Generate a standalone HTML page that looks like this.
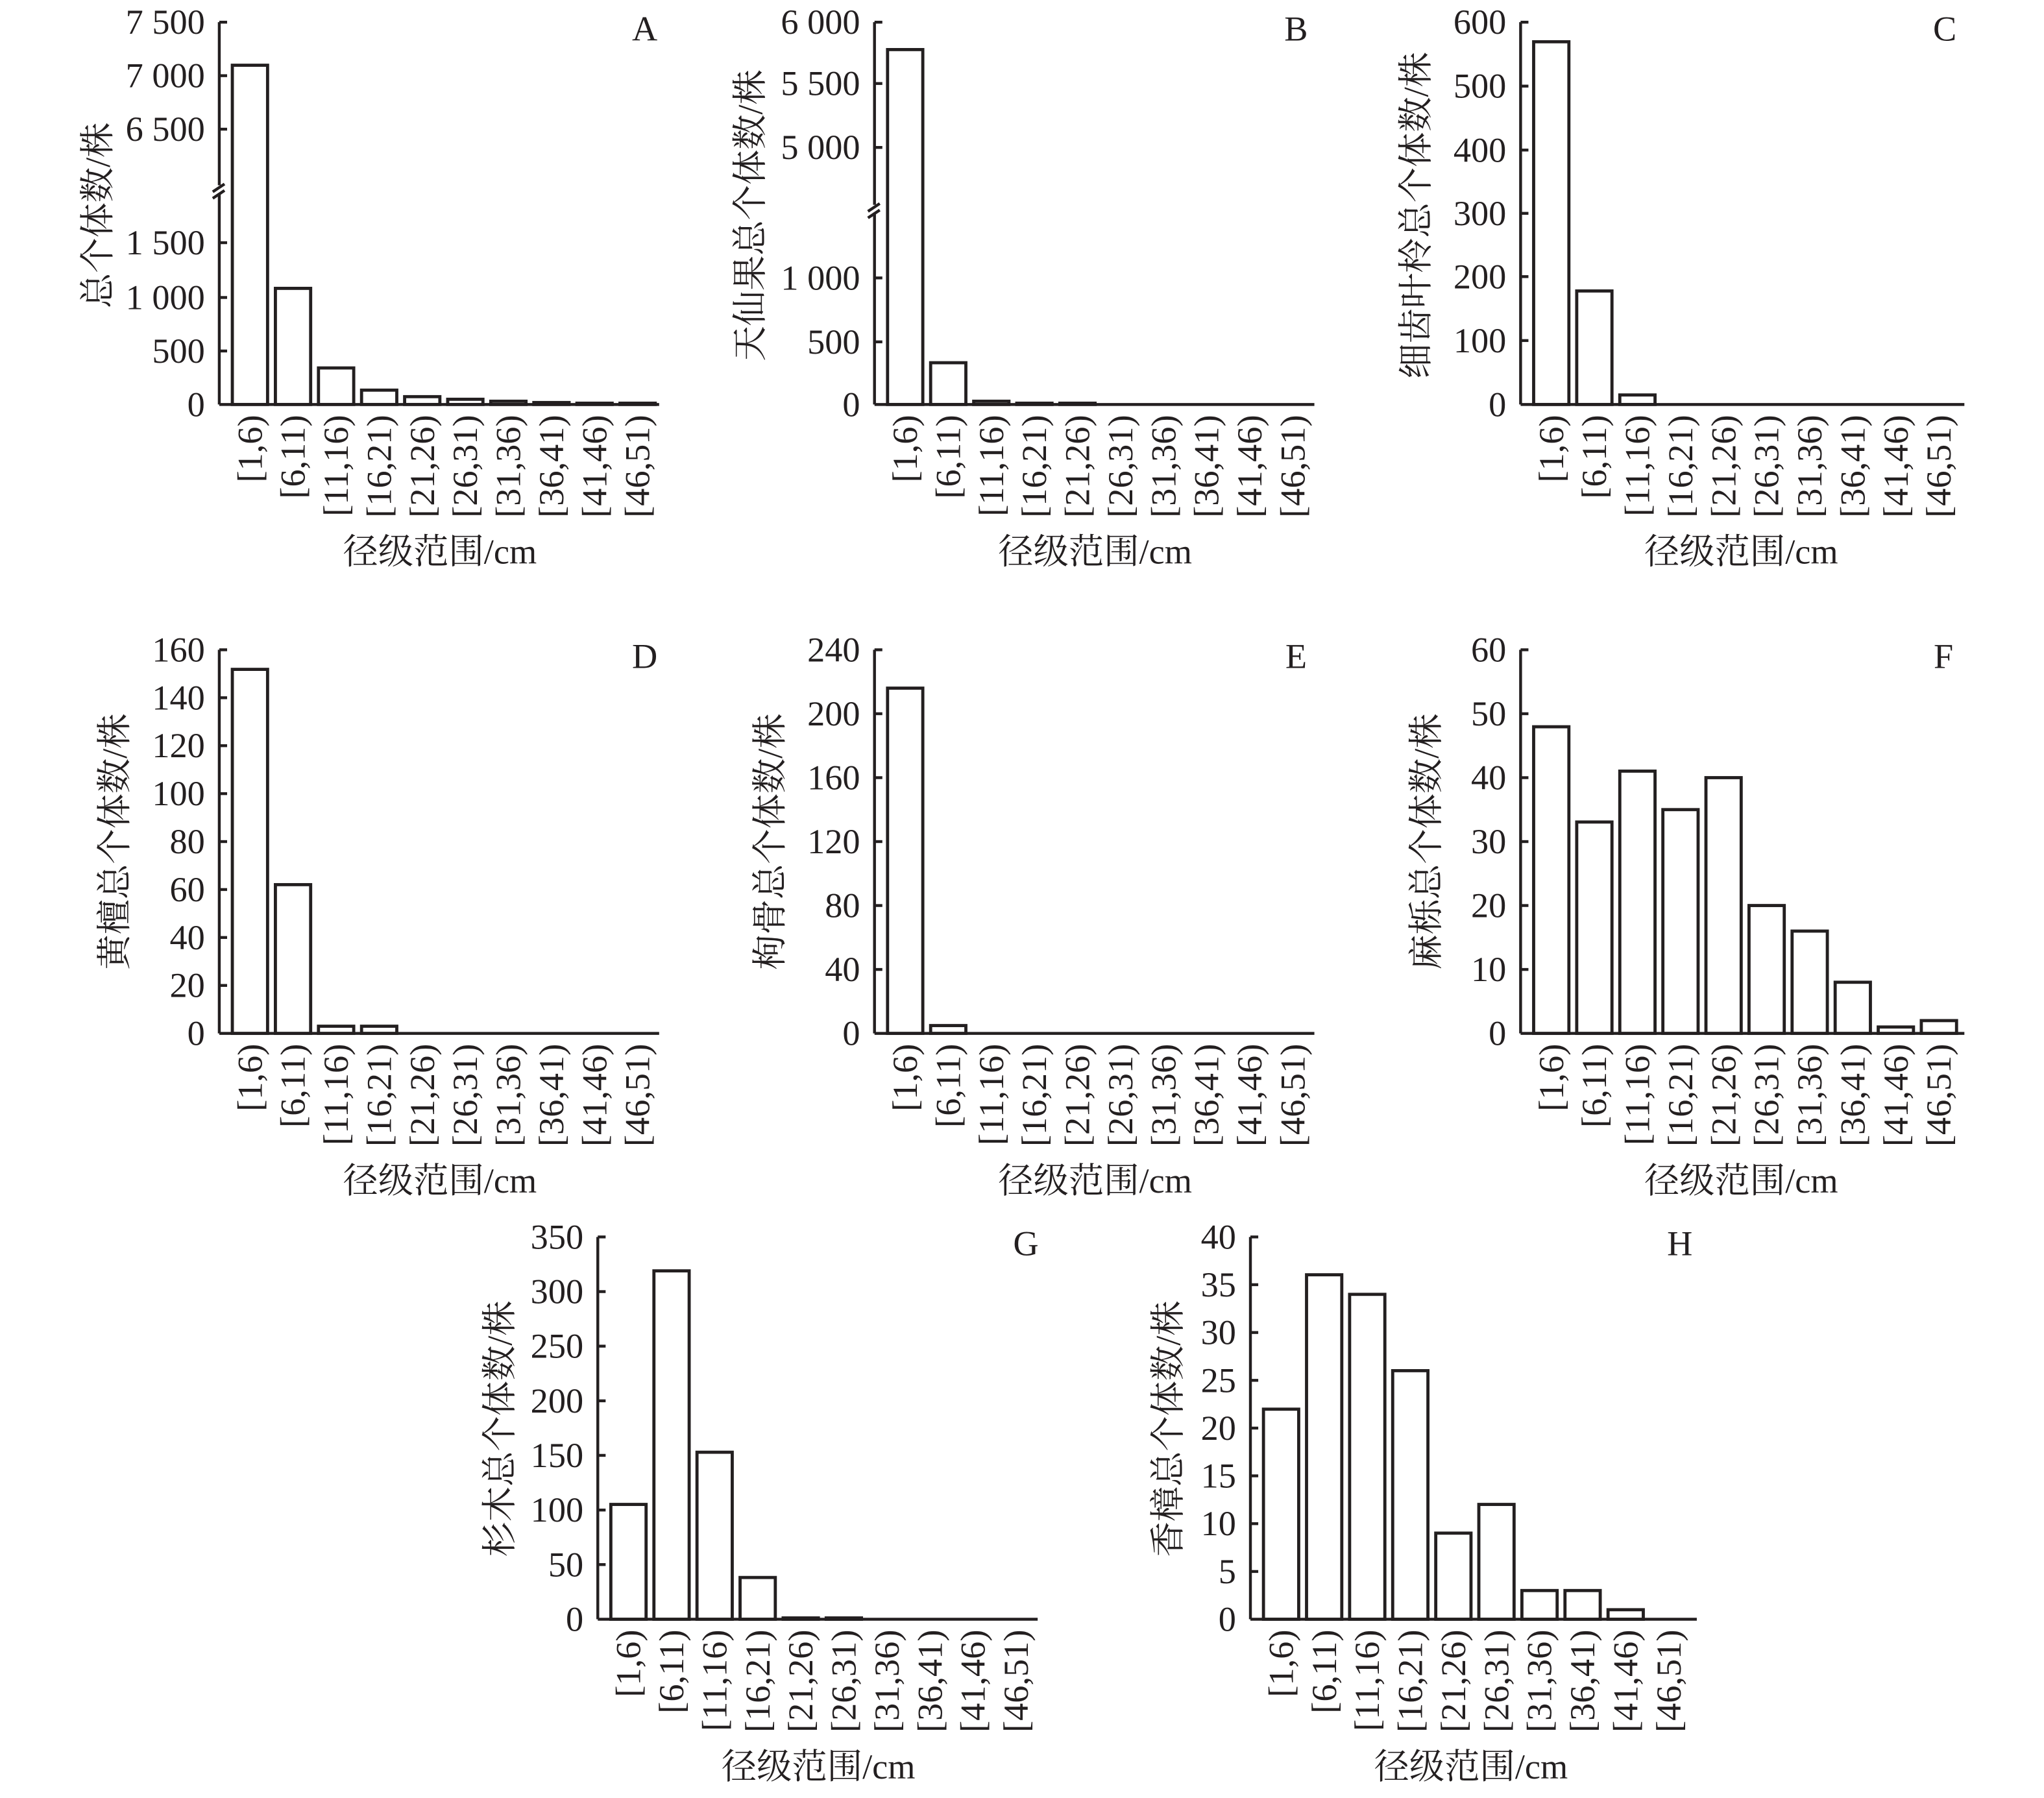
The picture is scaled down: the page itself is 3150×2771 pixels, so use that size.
<!DOCTYPE html>
<html><head><meta charset="utf-8"><style>
html,body{margin:0;padding:0;background:#fff}
svg{display:block}
text{font-family:"Liberation Serif","Noto Serif CJK SC",serif;fill:#231f20;font-size:27px}
.t{text-anchor:end;dominant-baseline:central}
.x{text-anchor:end}
.yt{text-anchor:middle;dominant-baseline:central}
.xt{text-anchor:middle}
.l{text-anchor:middle}
rect{fill:#fff;stroke:#231f20;stroke-width:2.4}
line,path{stroke:#231f20;stroke-width:2.2;fill:none}
</style></head><body>
<svg width="3150" height="2771" viewBox="0 0 1566 1378" preserveAspectRatio="none" xmlns="http://www.w3.org/2000/svg">
<defs>
<g id="xl">
<text class="x" transform="translate(32.5,8) rotate(-90)">[1,6)</text>
<text class="x" transform="translate(65.5,8) rotate(-90)">[6,11)</text>
<text class="x" transform="translate(98.5,8) rotate(-90)">[11,16)</text>
<text class="x" transform="translate(131.5,8) rotate(-90)">[16,21)</text>
<text class="x" transform="translate(164.5,8) rotate(-90)">[21,26)</text>
<text class="x" transform="translate(197.5,8) rotate(-90)">[26,31)</text>
<text class="x" transform="translate(230.5,8) rotate(-90)">[31,36)</text>
<text class="x" transform="translate(263.5,8) rotate(-90)">[36,41)</text>
<text class="x" transform="translate(296.5,8) rotate(-90)">[41,46)</text>
<text class="x" transform="translate(329.5,8) rotate(-90)">[46,51)</text>
<text class="xt" x="169" y="122">径级范围/cm</text>
</g>
</defs>

<!-- A -->
<g transform="translate(168,310)">
<rect x="10" y="-260" width="27" height="260"/><rect x="43" y="-89" width="27" height="89"/><rect x="76" y="-28" width="27" height="28"/><rect x="109" y="-11" width="27" height="11"/><rect x="142" y="-6" width="27" height="6"/><rect x="175" y="-4" width="27" height="4"/><rect x="208" y="-2.5" width="27" height="2.5"/><rect x="241" y="-1.5" width="27" height="1.5"/><rect x="274" y="-1" width="27" height="1"/><rect x="307" y="-1" width="27" height="1"/>
<line x1="0" y1="0" x2="0" y2="-293"/><line x1="0" y1="0" x2="337" y2="0"/>
<line x1="0" y1="-293" x2="6" y2="-293"/><line x1="0" y1="-252" x2="6" y2="-252"/><line x1="0" y1="-211" x2="6" y2="-211"/><line x1="0" y1="-124" x2="6" y2="-124"/><line x1="0" y1="-82" x2="6" y2="-82"/><line x1="0" y1="-41" x2="6" y2="-41"/>
<rect x="-8" y="-168" width="12" height="6" style="stroke:none"/>
<path d="M-5,-163 L4,-169 M-5,-158 L4,-164"/>
<text class="t" x="-11" y="-293">7 500</text><text class="t" x="-11" y="-252">7 000</text><text class="t" x="-11" y="-211">6 500</text><text class="t" x="-11" y="-124">1 500</text><text class="t" x="-11" y="-82">1 000</text><text class="t" x="-11" y="-41">500</text><text class="t" x="-11" y="0">0</text>
<text class="yt" transform="translate(-93,-145) rotate(-90)">总个体数/株</text>
<text class="l" x="326" y="-279">A</text>
<use href="#xl"/>
</g>

<!-- B -->
<g transform="translate(670,310)">
<rect x="10" y="-272" width="27" height="272"/><rect x="43" y="-32" width="27" height="32"/><rect x="76" y="-2.5" width="27" height="2.5"/><rect x="109" y="-1" width="27" height="1"/><rect x="142" y="-1" width="27" height="1"/>
<line x1="0" y1="0" x2="0" y2="-293"/><line x1="0" y1="0" x2="337" y2="0"/>
<line x1="0" y1="-293" x2="6" y2="-293"/><line x1="0" y1="-246" x2="6" y2="-246"/><line x1="0" y1="-197" x2="6" y2="-197"/><line x1="0" y1="-97" x2="6" y2="-97"/><line x1="0" y1="-48" x2="6" y2="-48"/>
<rect x="-8" y="-153" width="12" height="6" style="stroke:none"/>
<path d="M-5,-148 L4,-154 M-5,-143 L4,-149"/>
<text class="t" x="-11" y="-293">6 000</text><text class="t" x="-11" y="-246">5 500</text><text class="t" x="-11" y="-197">5 000</text><text class="t" x="-11" y="-97">1 000</text><text class="t" x="-11" y="-48">500</text><text class="t" x="-11" y="0">0</text>
<text class="yt" transform="translate(-95,-145) rotate(-90)">天仙果总个体数/株</text>
<text class="l" x="323" y="-279">B</text>
<use href="#xl"/>
</g>

<!-- C -->
<g transform="translate(1165,310)">
<rect x="10" y="-278" width="27" height="278"/><rect x="43" y="-87" width="27" height="87"/><rect x="76" y="-7.3" width="27" height="7.3"/>
<line x1="0" y1="0" x2="0" y2="-293"/><line x1="0" y1="0" x2="340" y2="0"/>
<line x1="0" y1="-293" x2="6" y2="-293"/><line x1="0" y1="-244" x2="6" y2="-244"/><line x1="0" y1="-195" x2="6" y2="-195"/><line x1="0" y1="-146.5" x2="6" y2="-146.5"/><line x1="0" y1="-98" x2="6" y2="-98"/><line x1="0" y1="-49" x2="6" y2="-49"/>
<text class="t" x="-11" y="-293">600</text><text class="t" x="-11" y="-244">500</text><text class="t" x="-11" y="-195">400</text><text class="t" x="-11" y="-146.5">300</text><text class="t" x="-11" y="-98">200</text><text class="t" x="-11" y="-49">100</text><text class="t" x="-11" y="0">0</text>
<text class="yt" transform="translate(-80,-145) rotate(-90)">细齿叶柃总个体数/株</text>
<text class="l" x="325" y="-279">C</text>
<use href="#xl"/>
</g>

<!-- D -->
<g transform="translate(168,792)">
<rect x="10" y="-279" width="27" height="279"/><rect x="43" y="-114" width="27" height="114"/><rect x="76" y="-5.5" width="27" height="5.5"/><rect x="109" y="-5.5" width="27" height="5.5"/>
<line x1="0" y1="0" x2="0" y2="-294"/><line x1="0" y1="0" x2="337" y2="0"/>
<line x1="0" y1="-294" x2="6" y2="-294"/><line x1="0" y1="-257.25" x2="6" y2="-257.25"/><line x1="0" y1="-220.5" x2="6" y2="-220.5"/><line x1="0" y1="-183.75" x2="6" y2="-183.75"/><line x1="0" y1="-147" x2="6" y2="-147"/><line x1="0" y1="-110.25" x2="6" y2="-110.25"/><line x1="0" y1="-73.5" x2="6" y2="-73.5"/><line x1="0" y1="-36.75" x2="6" y2="-36.75"/>
<text class="t" x="-11" y="-294">160</text><text class="t" x="-11" y="-257.25">140</text><text class="t" x="-11" y="-220.5">120</text><text class="t" x="-11" y="-183.75">100</text><text class="t" x="-11" y="-147">80</text><text class="t" x="-11" y="-110.25">60</text><text class="t" x="-11" y="-73.5">40</text><text class="t" x="-11" y="-36.75">20</text><text class="t" x="-11" y="0">0</text>
<text class="yt" transform="translate(-80,-147) rotate(-90)">黄檀总个体数/株</text>
<text class="l" x="326" y="-280">D</text>
<use href="#xl"/>
</g>

<!-- E -->
<g transform="translate(670,792)">
<rect x="10" y="-264.6" width="27" height="264.6"/><rect x="43" y="-6" width="27" height="6"/>
<line x1="0" y1="0" x2="0" y2="-294"/><line x1="0" y1="0" x2="337" y2="0"/>
<line x1="0" y1="-294" x2="6" y2="-294"/><line x1="0" y1="-245" x2="6" y2="-245"/><line x1="0" y1="-196" x2="6" y2="-196"/><line x1="0" y1="-147" x2="6" y2="-147"/><line x1="0" y1="-98" x2="6" y2="-98"/><line x1="0" y1="-49" x2="6" y2="-49"/>
<text class="t" x="-11" y="-294">240</text><text class="t" x="-11" y="-245">200</text><text class="t" x="-11" y="-196">160</text><text class="t" x="-11" y="-147">120</text><text class="t" x="-11" y="-98">80</text><text class="t" x="-11" y="-49">40</text><text class="t" x="-11" y="0">0</text>
<text class="yt" transform="translate(-80,-147) rotate(-90)">枸骨总个体数/株</text>
<text class="l" x="323" y="-280">E</text>
<use href="#xl"/>
</g>

<!-- F -->
<g transform="translate(1165,792)">
<rect x="10" y="-235" width="27" height="235"/><rect x="43" y="-162" width="27" height="162"/><rect x="76" y="-201" width="27" height="201"/><rect x="109" y="-171.5" width="27" height="171.5"/><rect x="142" y="-196" width="27" height="196"/><rect x="175" y="-98" width="27" height="98"/><rect x="208" y="-78.4" width="27" height="78.4"/><rect x="241" y="-39.2" width="27" height="39.2"/><rect x="274" y="-4.9" width="27" height="4.9"/><rect x="307" y="-9.8" width="27" height="9.8"/>
<line x1="0" y1="0" x2="0" y2="-294"/><line x1="0" y1="0" x2="340" y2="0"/>
<line x1="0" y1="-294" x2="6" y2="-294"/><line x1="0" y1="-245" x2="6" y2="-245"/><line x1="0" y1="-196" x2="6" y2="-196"/><line x1="0" y1="-147" x2="6" y2="-147"/><line x1="0" y1="-98" x2="6" y2="-98"/><line x1="0" y1="-49" x2="6" y2="-49"/>
<text class="t" x="-11" y="-294">60</text><text class="t" x="-11" y="-245">50</text><text class="t" x="-11" y="-196">40</text><text class="t" x="-11" y="-147">30</text><text class="t" x="-11" y="-98">20</text><text class="t" x="-11" y="-49">10</text><text class="t" x="-11" y="0">0</text>
<text class="yt" transform="translate(-72,-147) rotate(-90)">麻栎总个体数/株</text>
<text class="l" x="324" y="-280">F</text>
<use href="#xl"/>
</g>

<!-- G -->
<g transform="translate(458,1241)">
<rect x="10" y="-88" width="27" height="88"/><rect x="43" y="-267" width="27" height="267"/><rect x="76" y="-128" width="27" height="128"/><rect x="109" y="-32" width="27" height="32"/><rect x="142" y="-1" width="27" height="1"/><rect x="175" y="-1" width="27" height="1"/>
<line x1="0" y1="0" x2="0" y2="-293"/><line x1="0" y1="0" x2="337" y2="0"/>
<line x1="0" y1="-293" x2="6" y2="-293"/><line x1="0" y1="-251.1" x2="6" y2="-251.1"/><line x1="0" y1="-209.3" x2="6" y2="-209.3"/><line x1="0" y1="-167.4" x2="6" y2="-167.4"/><line x1="0" y1="-125.6" x2="6" y2="-125.6"/><line x1="0" y1="-83.7" x2="6" y2="-83.7"/><line x1="0" y1="-41.9" x2="6" y2="-41.9"/>
<text class="t" x="-11" y="-293">350</text><text class="t" x="-11" y="-251.1">300</text><text class="t" x="-11" y="-209.3">250</text><text class="t" x="-11" y="-167.4">200</text><text class="t" x="-11" y="-125.6">150</text><text class="t" x="-11" y="-83.7">100</text><text class="t" x="-11" y="-41.9">50</text><text class="t" x="-11" y="0">0</text>
<text class="yt" transform="translate(-75,-146) rotate(-90)">杉木总个体数/株</text>
<text class="l" x="328" y="-279">G</text>
<use href="#xl"/>
</g>

<!-- H -->
<g transform="translate(958,1241)">
<rect x="10" y="-161" width="27" height="161"/><rect x="43" y="-264" width="27" height="264"/><rect x="76" y="-249" width="27" height="249"/><rect x="109" y="-190.5" width="27" height="190.5"/><rect x="142" y="-66" width="27" height="66"/><rect x="175" y="-88" width="27" height="88"/><rect x="208" y="-22" width="27" height="22"/><rect x="241" y="-22" width="27" height="22"/><rect x="274" y="-7.3" width="27" height="7.3"/>
<line x1="0" y1="0" x2="0" y2="-293"/><line x1="0" y1="0" x2="342" y2="0"/>
<line x1="0" y1="-293" x2="6" y2="-293"/><line x1="0" y1="-256.4" x2="6" y2="-256.4"/><line x1="0" y1="-219.75" x2="6" y2="-219.75"/><line x1="0" y1="-183.1" x2="6" y2="-183.1"/><line x1="0" y1="-146.5" x2="6" y2="-146.5"/><line x1="0" y1="-109.9" x2="6" y2="-109.9"/><line x1="0" y1="-73.25" x2="6" y2="-73.25"/><line x1="0" y1="-36.6" x2="6" y2="-36.6"/>
<text class="t" x="-11" y="-293">40</text><text class="t" x="-11" y="-256.4">35</text><text class="t" x="-11" y="-219.75">30</text><text class="t" x="-11" y="-183.1">25</text><text class="t" x="-11" y="-146.5">20</text><text class="t" x="-11" y="-109.9">15</text><text class="t" x="-11" y="-73.25">10</text><text class="t" x="-11" y="-36.6">5</text><text class="t" x="-11" y="0">0</text>
<text class="yt" transform="translate(-63,-146) rotate(-90)">香樟总个体数/株</text>
<text class="l" x="329" y="-279">H</text>
<use href="#xl"/>
</g>
</svg>
</body></html>
